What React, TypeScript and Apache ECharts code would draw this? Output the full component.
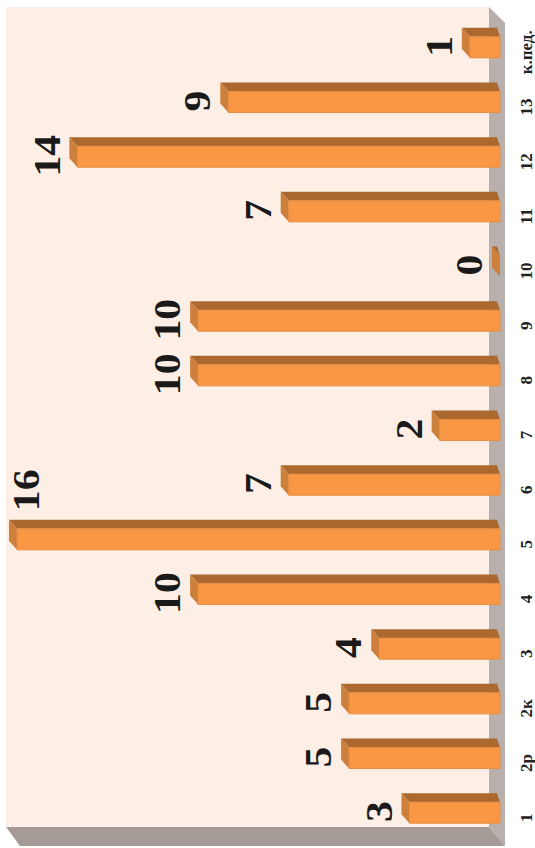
import React, { useEffect, useRef } from "react";
import * as echarts from "echarts";

const categories = ["1", "2р", "2к", "3", "4", "5", "6", "7", "8", "9", "10", "11", "12", "13", "к.пед."];
const values = [3, 5, 5, 4, 10, 16, 7, 2, 10, 10, 0, 7, 14, 9, 1];
const valueMax = 16;

const DEPTH_X = 8;
const DEPTH_Y = 9;
const BAR_RATIO = 0.385;
const SERIF = "'Liberation Serif', 'DejaVu Serif', serif";

function renderBar(params: any, api: any) {
  const value = api.value(0);
  const cat = api.value(1);
  const [xv, yc] = api.coord([value, cat]);
  const [x0] = api.coord([0, cat]);
  const h = api.size([0, 1])[1] * BAR_RATIO;
  const top = yc - h / 2;
  const bottom = yc + h / 2;
  const fits = xv - DEPTH_X - 22 > 14;
  const children: any[] = [
    {
      type: "polygon",
      shape: { points: [[xv - DEPTH_X, top - DEPTH_Y], [x0 - 3, top - DEPTH_Y], [x0, top], [xv, top]] },
      style: { fill: "#ab682f" },
    },
    {
      type: "polygon",
      shape: { points: [[xv - DEPTH_X, top - DEPTH_Y], [xv, top], [xv, bottom], [xv - DEPTH_X, bottom - DEPTH_Y]] },
      style: { fill: "#cd7f3c" },
    },
  ];
  if (value > 0) {
    children.push({
      type: "rect",
      shape: { x: xv, y: top, width: x0 - xv, height: h },
      style: { fill: "#fa9744", stroke: "#e58d42", lineWidth: 1 },
    });
  }
  children.push({
    type: "text",
    x: fits ? xv - DEPTH_X - 22 : xv + 10,
    y: fits ? yc - 1 : yc - 49,
    rotation: Math.PI / 2,
    scaleX: 1.13,
    style: {
      text: String(value),
      fontFamily: SERIF,
      fontWeight: "bold",
      fontSize: 37,
      fill: "#1a1a1a",
      textAlign: "center",
      textVerticalAlign: "middle",
    },
  });
  return { type: "group", children };
}

export default function App() {
  const ref = useRef<HTMLDivElement>(null);
  useEffect(() => {
    const chart = echarts.init(ref.current!, undefined, { renderer: "svg" });
    chart.setOption({
      animation: false,
      backgroundColor: "#ffffff",
      grid: { left: 17, right: 35, top: 20, bottom: 8 },
      xAxis: { type: "value", inverse: true, min: 0, max: valueMax, show: false, splitLine: { show: false } },
      yAxis: {
        type: "category",
        position: "right",
        data: categories,
        axisLine: { show: false, onZero: false },
        axisTick: { show: false },
        axisLabel: {
          interval: 0,
          hideOverlap: false,
          rotate: 90,
          margin: 26,
          align: "center",
          verticalAlign: "middle",
          padding: [0, 10, 0, 0],
          fontFamily: SERIF,
          fontWeight: "bold",
          fontSize: 17,
          color: "#222222",
        },
      },
      graphic: [
        { type: "rect", z: 0, shape: { x: 6, y: 7, width: 483, height: 820 }, style: { fill: "#fdefe6" } },
        { type: "polygon", z: 0, shape: { points: [[489, 7], [505, 23], [505, 846], [489, 827]] }, style: { fill: "#b8b0ac" } },
        { type: "polygon", z: 0, shape: { points: [[6, 827], [489, 827], [505, 846], [20, 846]] }, style: { fill: "#a49b97" } },
      ],
      series: [
        {
          type: "custom",
          z: 5,
          clip: false,
          renderItem: renderBar,
          encode: { x: 0, y: 1 },
          data: values.map((v, i) => [v, i]),
        },
      ],
    });
    return () => chart.dispose();
  }, []);
  return <div ref={ref} style={{ position: "absolute", left: 0, top: 0, width: 535, height: 848 }} />;
}
